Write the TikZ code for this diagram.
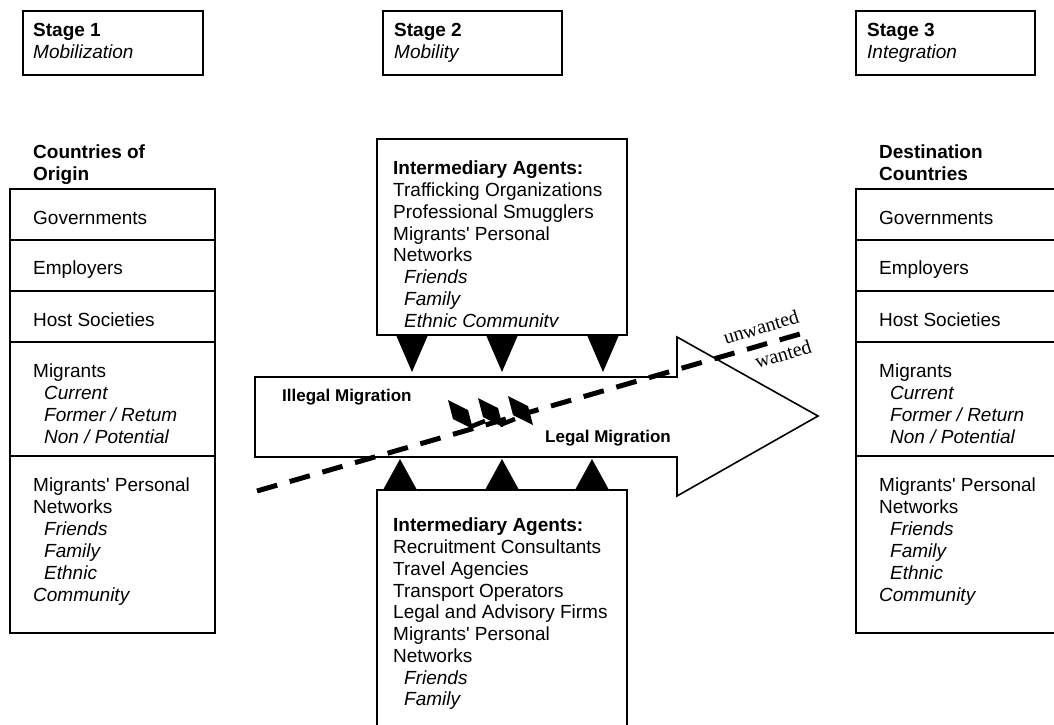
\documentclass[tikz,border=0pt]{standalone}
\usepackage{fontspec}
\setmainfont{Liberation Sans}
\newfontfamily\flowserif{Liberation Serif}
\newcommand{\apos}{\textquotesingle}
\begin{document}
\begin{tikzpicture}[x=1pt,y=-1pt,
  frame/.style={draw=black,line width=1.8pt},
  body/.style={font=\fontsize{19}{21.75}\selectfont,anchor=north west,inner sep=0pt,align=left},
  flowlabel/.style={font=\bfseries\fontsize{17}{20}\selectfont,anchor=north west,inner sep=0pt},
  filterlabel/.style={font=\flowserif\fontsize{20}{20}\selectfont,inner sep=0pt,rotate=17},
  wedge/.style={fill=black},
  barrier/.style={fill=black},
  flowpath/.style={line width=5pt,dash pattern=on 21pt off 13pt}]
\useasboundingbox (0,0) rectangle (1054,724);

% stage headers
\draw[frame] (23,11) rectangle (203,75);
\node[body] (stage1) at (33,23) {\textbf{Stage 1}\\\textit{Mobilization}};
\draw[frame] (383,11) rectangle (562,75);
\node[body] (stage2) at (394,23) {\textbf{Stage 2}\\\textit{Mobility}};
\draw[frame] (856,11) rectangle (1035,75);
\node[body] (stage3) at (867,23) {\textbf{Stage 3}\\\textit{Integration}};

% countries of origin
\node[body,font=\bfseries\fontsize{19}{21.75}\selectfont] (originhead) at (33,145) {Countries of\\Origin};
\draw[frame] (10,189) rectangle (215,633);
\foreach \y in {240,291,342,456} \draw[frame] (10,\y) -- (215,\y);
\node[body] (ogov) at (33,211) {Governments};
\node[body] (oemp) at (33,261) {Employers};
\node[body] (ohost) at (33,313) {Host Societies};
\node[body] (omig) at (33,364) {Migrants\\\hspace*{11pt}\textit{Current}\\\hspace*{11pt}\textit{Former / Retum}\\\hspace*{11pt}\textit{Non / Potential}};
\node[body,font=\fontsize{19}{22}\selectfont] (onet) at (33,478) {Migrants\apos{} Personal\\Networks\\\hspace*{11pt}\textit{Friends}\\\hspace*{11pt}\textit{Family}\\\hspace*{11pt}\textit{Ethnic}\\\textit{Community}};

% destination countries
\node[body,font=\bfseries\fontsize{19}{21.75}\selectfont] (desthead) at (879,145) {Destination\\Countries};
\draw[frame] (1056,189) -- (856,189) -- (856,633) -- (1056,633);
\foreach \y in {240,291,342,456} \draw[frame] (856,\y) -- (1056,\y);
\node[body] (dgov) at (879,211) {Governments};
\node[body] (demp) at (879,261) {Employers};
\node[body] (dhost) at (879,313) {Host Societies};
\node[body] (dmig) at (879,364) {Migrants\\\hspace*{11pt}\textit{Current}\\\hspace*{11pt}\textit{Former / Return}\\\hspace*{11pt}\textit{Non / Potential}};
\node[body,font=\fontsize{19}{22}\selectfont] (dnet) at (879,478) {Migrants\apos{} Personal\\Networks\\\hspace*{11pt}\textit{Friends}\\\hspace*{11pt}\textit{Family}\\\hspace*{11pt}\textit{Ethnic}\\\textit{Community}};

% intermediary agents above the flow
\draw[frame] (377,139) rectangle (627,335);
\begin{scope}
  \clip (380,142) rectangle (624,326);
  \node[body] (illegalagents) at (393,161) {\textbf{Intermediary Agents:}\\Trafficking Organizations\\Professional Smugglers\\Migrants\apos{} Personal\\Networks\\\hspace*{11pt}\textit{Friends}\\\hspace*{11pt}\textit{Family}\\\hspace*{11pt}\textit{Ethnic Community}};
\end{scope}

% intermediary agents below the flow
\draw[frame] (377,730) -- (377,490) -- (627,490) -- (627,730);
\node[body] (legalagents) at (393,518) {\textbf{Intermediary Agents:}\\Recruitment Consultants\\Travel Agencies\\Transport Operators\\Legal and Advisory Firms\\Migrants\apos{} Personal\\Networks\\\hspace*{11pt}\textit{Friends}\\\hspace*{11pt}\textit{Family}};

% migration flow arrow
\draw[frame,line width=1.6pt,fill=white] (255,377) -- (677,377) -- (677,337) -- (818,416) -- (677,496) -- (677,457) -- (255,457) -- cycle;

% agents acting on the flow
\foreach \cx in {412,502,603} \fill[wedge] (\cx-16,335) -- (\cx+16,335) -- (\cx,372) -- cycle;
\foreach \cx in {400,502,592} \fill[wedge] (\cx-17,490) -- (\cx+17,490) -- (\cx,459) -- cycle;

\node[flowlabel] (illegal) at (282,389) {Illegal Migration};
\node[flowlabel] (legal) at (545,430) {Legal Migration};

% wanted / unwanted divide, with the barriers it passes through
\coordinate (divstart) at (257,491);
\coordinate (divend) at (800,334);
\draw[flowpath] (divstart) -- (divend);
\foreach \dx/\dy in {0/0,30/-2,60/-4}
  \fill[barrier] (448+\dx,400+\dy) -- (468+\dx,410+\dy) -- (473+\dx,429+\dy) -- (453+\dx,419+\dy) -- cycle;
\draw[line width=4.5pt] (470,427) -- (485,421);
\draw[line width=4.5pt] (500,425) -- (515,419);
\node[filterlabel] (unwanted) at (761,327) {unwanted};
\node[filterlabel] (wanted) at (783,354) {wanted};
\end{tikzpicture}
\end{document}
